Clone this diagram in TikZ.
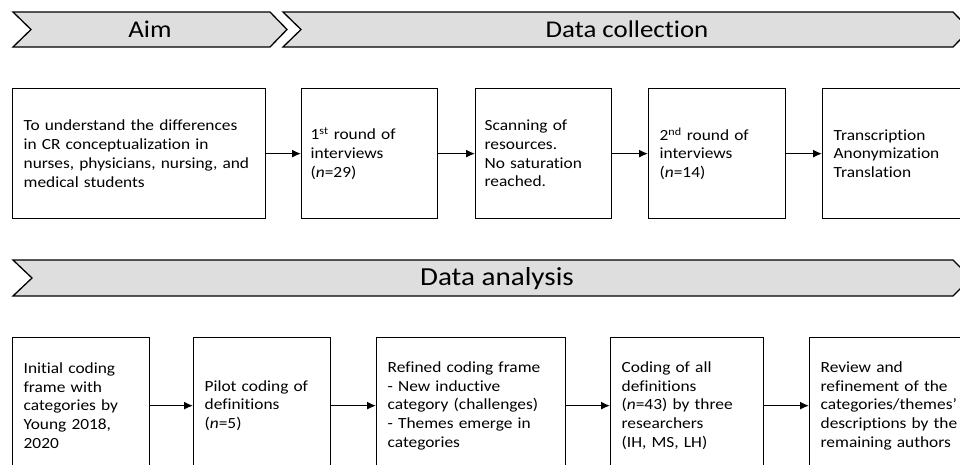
\documentclass[tikz,border=0pt]{standalone}
\usepackage{fontspec}
\setmainfont{Carlito}[FakeStretch=1.12, Ligatures={NoCommon}]
\usetikzlibrary{arrows.meta}
\definecolor{bannergray}{HTML}{DEDEDE}
\tikzset{
  x=1pt, y=-1pt,
  banner/.style={draw=black, fill=bannergray, line width=1.3pt, line join=miter},
  bannertext/.style={font=\fontsize{24}{28}\selectfont, inner sep=0pt},
  stepbox/.style={draw=black, line width=1.3pt, rectangle, align=left, inner xsep=11pt, inner ysep=0pt,
    font=\fontsize{15.5}{18.7}\selectfont, anchor=north west},
  flow/.style={-{Latex[length=9pt,width=8pt]}, line width=1.3pt}
}
\begin{document}
\begin{tikzpicture}
\clip (0,0) rectangle (960,464);
\fill[white] (0,0) rectangle (960,464);
% banners
\draw[banner] (13,12) -- (270,12) -- (287,29.5) -- (270,47) -- (13,47) -- (31,29.5) -- cycle;
\draw[banner] (283,12) -- (953,12) -- (970,29.5) -- (953,47) -- (283,47) -- (301,29.5) -- cycle;
\draw[banner] (13,260) -- (953,260) -- (971,278) -- (953,296) -- (13,296) -- (32,278) -- cycle;
\node[bannertext] (aim) at (150,29.5) {Aim};
\node[bannertext] (dc) at (627,29.5) {Data collection};
\node[bannertext, font=\fontsize{26}{30}\selectfont] (da) at (497,279) {Data analysis};
% top row
\node[stepbox, text width=231pt, minimum height=130pt] (t1) at (12,88) {To understand the differences\\in CR conceptualization in\\nurses, physicians, nursing, and\\medical students};
\node[stepbox, minimum height=130pt, inner xsep=9pt, text width=118pt] (t2) at (301,88) {1\textsuperscript{st} round of\\interviews\\(\textit{n}=29)};
\node[stepbox, text width=118pt, minimum height=130pt, inner xsep=9pt] (t3) at (475,88) {Scanning of\\resources.\\No saturation\\reached.};
\node[stepbox, text width=115pt, minimum height=130pt] (t4) at (648,88) {2\textsuperscript{nd} round of\\interviews\\(\textit{n}=14)};
\node[stepbox, text width=126pt, minimum height=130pt] (t5) at (822,88) {Transcription\\Anonymization\\Translation};
% bottom row
\node[stepbox, text width=115pt, minimum height=136pt] (b1) at (12,337) {Initial coding\\frame with\\categories by\\Young 2018,\\2020};
\node[stepbox, text width=115pt, minimum height=136pt] (b2) at (193,337) {Pilot coding of\\definitions\\(\textit{n}=5)};
\node[stepbox, text width=167pt, minimum height=136pt] (b3) at (376,337) {Refined coding frame\\- New inductive\\category (challenges)\\- Themes emerge in\\categories};
\node[stepbox, text width=131pt, minimum height=136pt] (b4) at (610,337) {Coding of all\\definitions\\(\textit{n}=43) by three\\researchers\\(IH, MS, LH)};
\node[stepbox, text width=140pt, minimum height=136pt] (b5) at (809,337) {Review and\\refinement of the\\categories/themes'\\descriptions by the\\remaining authors};
% connectors
\draw[flow] (t1) -- (t2);
\draw[flow] (t2) -- (t3);
\draw[flow] (t3) -- (t4);
\draw[flow] (t4) -- (t5);
\draw[flow] (b1) -- (b2);
\draw[flow] (b2) -- (b3);
\draw[flow] (b3) -- (b4);
\draw[flow] (b4) -- (b5);
\end{tikzpicture}
\end{document}
